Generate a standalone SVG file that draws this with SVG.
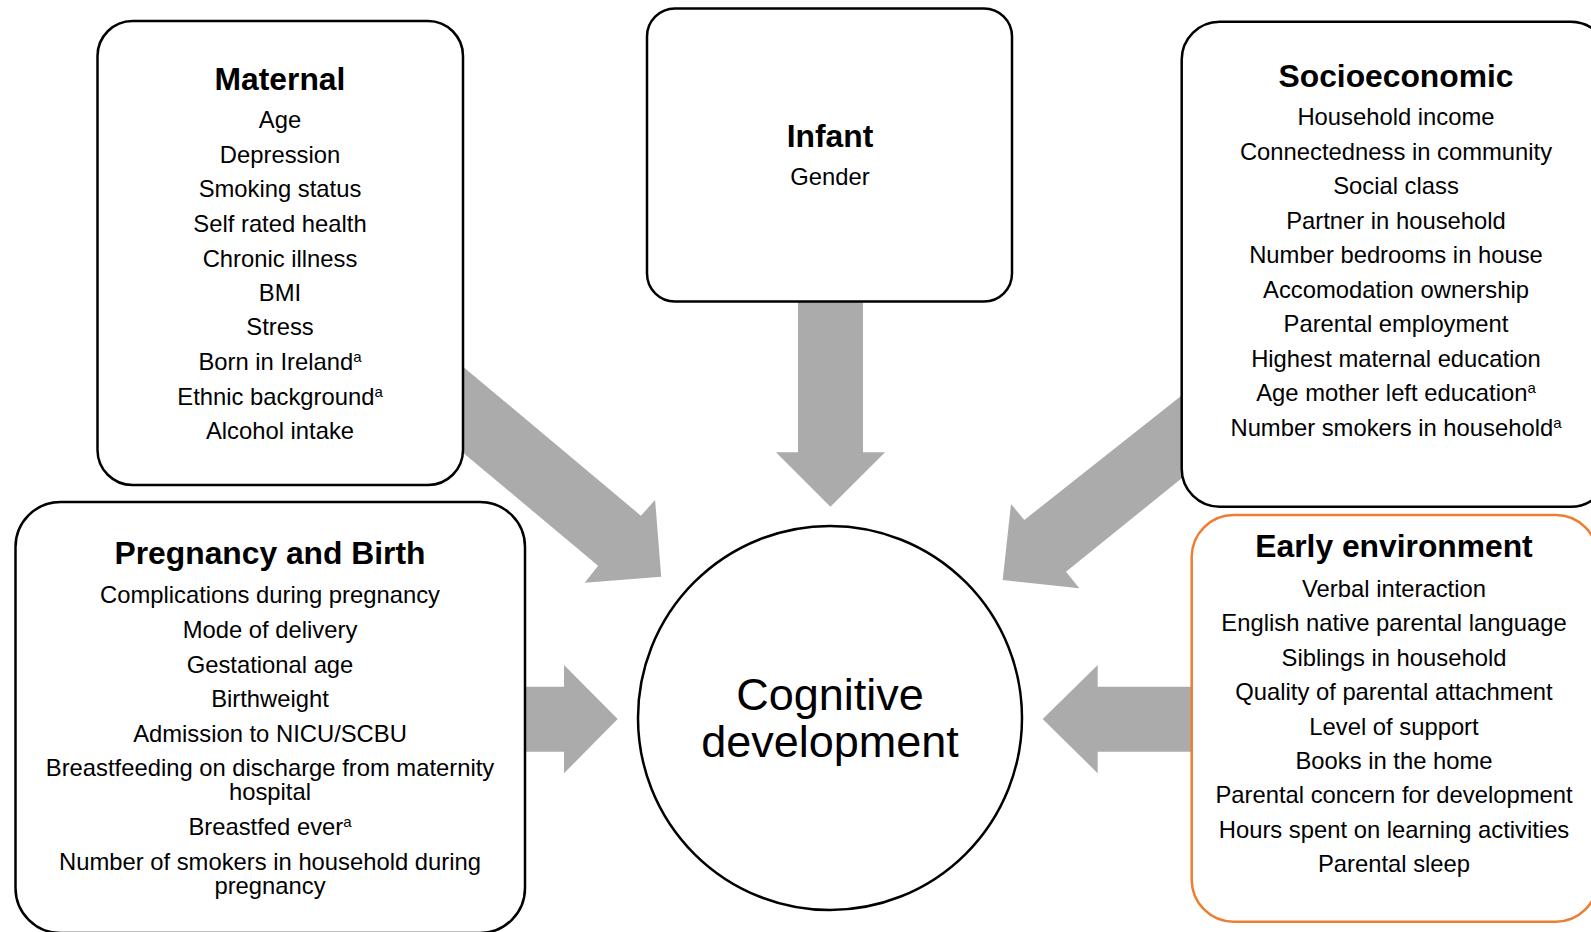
<svg xmlns="http://www.w3.org/2000/svg" width="1591" height="932" viewBox="0 0 1591 932">
<style>
.box{fill:#fff;stroke:#000;stroke-width:2.5}
.orange{fill:#fff;stroke:#ED7D31;stroke-width:2.5}
.arrow{fill:#ABABAB;stroke:none}
text{font-family:"Liberation Sans",Arial,sans-serif;fill:#000;text-anchor:middle}
.t{font-size:31.8px;font-weight:bold}
.i{font-size:23.8px}
.s{font-size:15px}
.c{font-size:45px}
</style>
<rect width="1591" height="932" fill="#fff"/>
<g id="connectors">
<polygon class="arrow" points="440,347.4 640.9,515.7 655.1,500 661.2,576.7 584.7,582.7 598.1,565.7 440,433.5"/>
<polygon class="arrow" points="798,290 863,290 863,452.3 885,452.3 830.4,506.7 776,452.3 798,452.3"/>
<polygon class="arrow" points="1200,380.9 1024.3,520 1011,504 1002.7,580 1079.3,588.3 1066,571.7 1200,463.5"/>
<polygon class="arrow" points="510,686.7 564,686.7 564,665 617.7,719 564,773.3 564,751.7 510,751.7"/>
<polygon class="arrow" points="1210,686.7 1097.7,686.7 1097.7,665 1042.7,719 1097.7,773.3 1097.7,751.7 1210,751.7"/>
</g>
<g id="maternal">
<rect class="box" x="97.5" y="21" width="365.5" height="464" rx="35"/>
<text class="t" x="280" y="90">Maternal</text>
<text class="i" x="280" y="128">Age</text>
<text class="i" x="280" y="163">Depression</text>
<text class="i" x="280" y="197">Smoking status</text>
<text class="i" x="280" y="232">Self rated health</text>
<text class="i" x="280" y="267">Chronic illness</text>
<text class="i" x="280" y="301">BMI</text>
<text class="i" x="280" y="335">Stress</text>
<text class="i" x="280" y="370">Born in Ireland<tspan class="s" dy="-8">a</tspan></text>
<text class="i" x="280" y="405">Ethnic background<tspan class="s" dy="-8">a</tspan></text>
<text class="i" x="280" y="439">Alcohol intake</text>
</g>
<g id="infant">
<rect class="box" x="647" y="8.5" width="365" height="293" rx="28"/>
<text class="t" x="830" y="146.7">Infant</text>
<text class="i" x="830" y="185">Gender</text>
</g>
<g id="socioeconomic">
<rect class="box" x="1181.7" y="21.7" width="427" height="485" rx="38"/>
<text class="t" x="1396" y="87.3">Socioeconomic</text>
<text class="i" x="1396" y="125">Household income</text>
<text class="i" x="1396" y="159.5">Connectedness in community</text>
<text class="i" x="1396" y="194">Social class</text>
<text class="i" x="1396" y="228.5">Partner in household</text>
<text class="i" x="1396" y="263">Number bedrooms in house</text>
<text class="i" x="1396" y="297.5">Accomodation ownership</text>
<text class="i" x="1396" y="332">Parental employment</text>
<text class="i" x="1396" y="366.5">Highest maternal education</text>
<text class="i" x="1396" y="401">Age mother left education<tspan class="s" dy="-8">a</tspan></text>
<text class="i" x="1396" y="435.5">Number smokers in household<tspan class="s" dy="-8">a</tspan></text>
</g>
<g id="pregnancy">
<rect class="box" x="15.5" y="502" width="509.5" height="431" rx="45"/>
<text class="t" x="270" y="564">Pregnancy and Birth</text>
<text class="i" x="270" y="603">Complications during pregnancy</text>
<text class="i" x="270" y="638">Mode of delivery</text>
<text class="i" x="270" y="673">Gestational age</text>
<text class="i" x="270" y="707">Birthweight</text>
<text class="i" x="270" y="742">Admission to NICU/SCBU</text>
<text class="i" x="270" y="776">Breastfeeding on discharge from maternity</text>
<text class="i" x="270" y="800">hospital</text>
<text class="i" x="270" y="835">Breastfed ever<tspan class="s" dy="-8">a</tspan></text>
<text class="i" x="270" y="870">Number of smokers in household during</text>
<text class="i" x="270" y="894">pregnancy</text>
</g>
<g id="early-environment">
<rect class="orange" x="1191.7" y="515" width="406" height="406.7" rx="42"/>
<text class="t" x="1394" y="556.7">Early environment</text>
<text class="i" x="1394" y="596.7">Verbal interaction</text>
<text class="i" x="1394" y="631">English native parental language</text>
<text class="i" x="1394" y="665.5">Siblings in household</text>
<text class="i" x="1394" y="700">Quality of parental attachment</text>
<text class="i" x="1394" y="734.5">Level of support</text>
<text class="i" x="1394" y="769">Books in the home</text>
<text class="i" x="1394" y="803">Parental concern for development</text>
<text class="i" x="1394" y="837.5">Hours spent on learning activities</text>
<text class="i" x="1394" y="872">Parental sleep</text>
</g>
<g id="cognitive">
<circle class="box" cx="830" cy="718" r="192"/>
<text class="c" x="830" y="710">Cognitive</text>
<text class="c" x="830" y="756.7">development</text>
</g>
</svg>
